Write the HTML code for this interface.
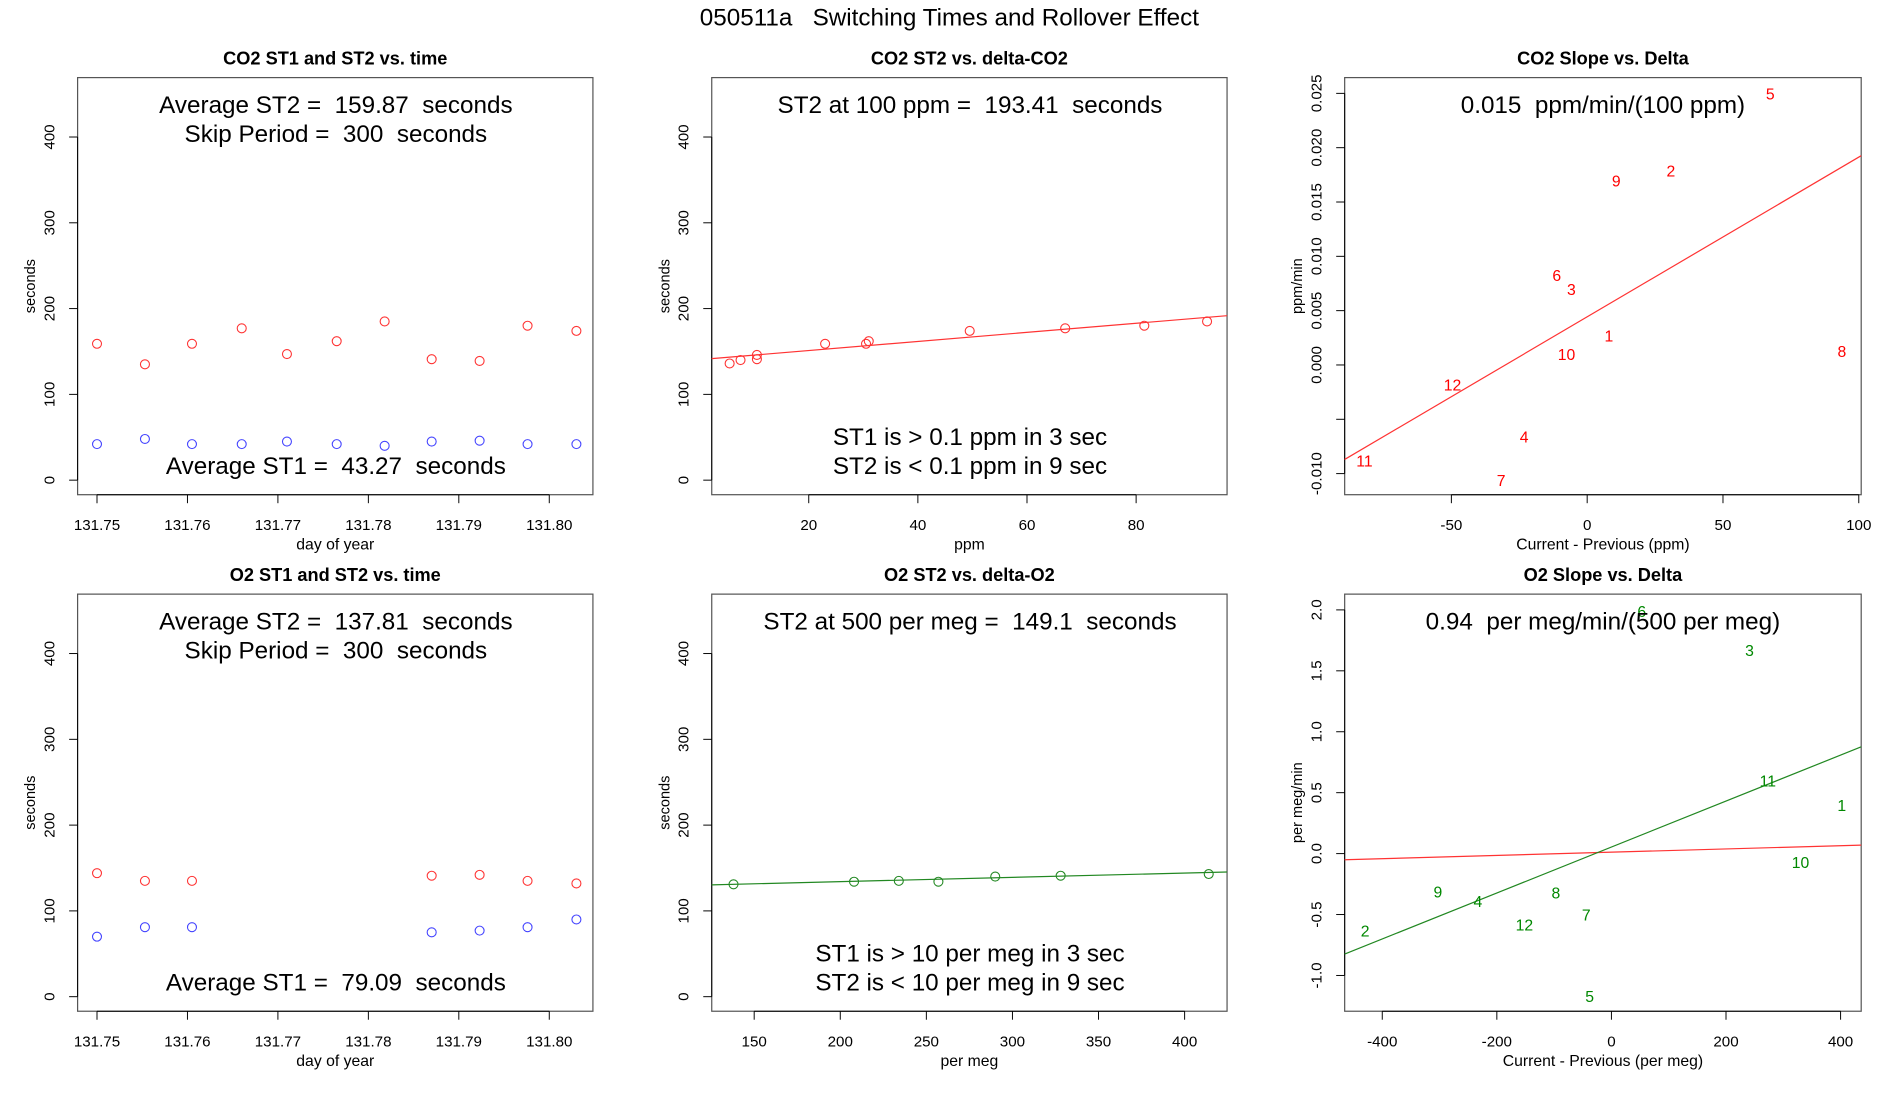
<!DOCTYPE html>
<html><head><meta charset="utf-8"><style>
html,body{margin:0;padding:0;background:#fff;}
svg{display:block;}
text{font-family:"Liberation Sans Narrow","Liberation Sans",sans-serif;fill:#000;white-space:pre;}
.tk{font-family:"Liberation Sans",sans-serif;font-size:12.5px;}
</style></head><body>
<svg id="fig" width="1900" height="1100" viewBox="0 0 1567 907" preserveAspectRatio="xMinYMin meet" xmlns="http://www.w3.org/2000/svg"></svg>
<script>
// ---- Data ----
const co2Days = [131.75,131.7553,131.7605,131.766,131.771,131.7765,131.7818,131.787,131.7923,131.7976,131.803];
const co2ST2 = [159,135,159,177,147,162,185,141,139,180,174];
const co2ST1 = [42,48,42,42,45,42,40,45,46,42,42];
const o2Days = [131.75,131.7553,131.7605,131.787,131.7923,131.7976,131.803];
const o2ST2 = [144,135,135,141,142,135,132];
const o2ST1 = [70,81,81,75,77,81,90];
const co2Delta = [5.5,7.5,10.5,10.5,23,30.5,31,49.5,67,81.5,93];
const co2DeltaST2 = [136,140,141,146,159,159,162,174,177,180,185];
const co2FitIntercept = 140.5, co2FitSlope = 0.53;
const o2Delta = [138,208,234,257,290,328,414];
const o2DeltaST2 = [131,134,135,134,140,141,143];
const o2FitIntercept = 124.1, o2FitSlope = 0.05;
const co2SlopeLabels = ['5','2','9','6','3','1','10','8','12','4','11','7'];
const co2SlopeX = [67.4,30.8,10.7,-11.2,-5.8,8,-7.6,93.8,-49.6,-23.2,-82,-31.7];
const co2SlopeY = [0.025,0.0179,0.017,0.0083,0.007,0.0027,0.001,0.0013,-0.0018,-0.0066,-0.0088,-0.0106];
const co2SlopeFit = [0.00443,0.000147];
const o2SlopeLabels = ['6','3','11','1','10','9','4','8','7','12','2','5'];
const o2SlopeX = [53,241,273,402,330,-303,-233,-97,-44,-152,-430,-38];
const o2SlopeY = [1.99,1.67,0.6,0.4,-0.07,-0.31,-0.39,-0.32,-0.5,-0.58,-0.63,-1.17];
const o2SlopeFitGreen = [0.054,0.001886];
const o2SlopeFitRed = [0.0117,0.000133];
const dayTicks = [131.75,131.76,131.77,131.78,131.79,131.80];
const dayTickLabels = ['131.75','131.76','131.77','131.78','131.79','131.80'];
const secTicks = [0,100,200,300,400];
const ppmTicks = [20,40,60,80];
const permegTicks = [150,200,250,300,350,400];
const co2DiffTicks = [-50,0,50,100];
const co2SlopeTicks = [-0.01,-0.005,0,0.005,0.01,0.015,0.02,0.025];
const co2SlopeTickLabels = ['-0.010','','0.000','0.005','0.010','0.015','0.020','0.025'];
const o2DiffTicks = [-400,-200,0,200,400];
const o2SlopeTicks = [-1,-0.5,0,0.5,1,1.5,2];
const o2SlopeTickLabels = ['-1.0','-0.5','0.0','0.5','1.0','1.5','2.0'];

const NS='http://www.w3.org/2000/svg';
const svg=document.getElementById('fig');
function mk(tag,attrs,parent,txt){const e=document.createElementNS(NS,tag);for(const k in attrs)e.setAttribute(k,attrs[k]);if(txt!==undefined)e.textContent=txt;(parent||svg).appendChild(e);return e;}
function lin(d0,d1,r0,r1){return v=>r0+(v-d0)*(r1-r0)/(d1-d0);}

function panel(name,box,xs,ys,title,xlab,ylab,xt,xtl,yt,ytl){
  const g=mk('g',{});
  
  
  const t=mk('text',{x:(box.x0+box.x1)/2,y:box.y0-11,'text-anchor':'middle','font-size':15,'font-weight':'bold'},g,title);
  
  
  const r=mk('rect',{x:box.x0,y:box.y0,width:box.x1-box.x0,height:box.y1-box.y0,fill:'none',stroke:'#555','stroke-width':1},g);
  
  
  const xa=mk('g',{},g);
  
  
  const px=xt.map(xs);
  mk('line',{x1:px[0],x2:px[px.length-1],y1:box.y1,y2:box.y1,stroke:'#000','stroke-width':0.8},xa);
  xt.forEach((v,i)=>{const X=xs(v);mk('line',{x1:X,x2:X,y1:box.y1,y2:box.y1+7,stroke:'#000','stroke-width':0.8},xa);
    const l=mk('text',{x:X,y:box.y1+29,'text-anchor':'middle',class:'tk'},xa,xtl[i]);
    
    });
  const xl=mk('text',{x:(box.x0+box.x1)/2,y:box.y1+45,'text-anchor':'middle','font-size':13},g,xlab);
  
  
  const ya=mk('g',{},g);
  
  
  const py=yt.map(ys);
  mk('line',{x1:box.x0,x2:box.x0,y1:py[0],y2:py[py.length-1],stroke:'#000','stroke-width':0.8},ya);
  yt.forEach((v,i)=>{const Y=ys(v);mk('line',{x1:box.x0,x2:box.x0-7,y1:Y,y2:Y,stroke:'#000','stroke-width':0.8},ya);
    if(ytl[i]!==''){const l=mk('text',{x:box.x0-19,y:Y,'text-anchor':'middle',class:'tk',transform:`rotate(-90 ${box.x0-19} ${Y})`},ya,ytl[i]);
    
    }});
  const yc=(box.y0+box.y1)/2;
  const yl=mk('text',{x:box.x0-35,y:yc,'text-anchor':'middle',transform:`rotate(-90 ${box.x0-35} ${yc})`,style:'font-family:"Liberation Sans",sans-serif;font-size:12px'},g,ylab);
  
  
  return g;
}
function note(g,x,y,s,name){const t=mk('text',{x:x,y:y+7,'text-anchor':'middle','font-size':20},g,s);
  
  }
function circles(g,xs,ys,X,Y,color,name){X.forEach((v,i)=>{const c=mk('circle',{cx:xs(v),cy:ys(Y[i]),r:3.7,fill:'none',stroke:color,'stroke-width':0.9},g);
  
  });}
function fitline(g,xs,ys,box,a,b,color,name){const xa=xs.inv(box.x0),xb=xs.inv(box.x1);
  const l=mk('line',{x1:box.x0,y1:ys(a+b*xa),x2:box.x1,y2:ys(a+b*xb),stroke:color,'stroke-width':1},g);
  
  }
function labels(g,xs,ys,L,X,Y,color,name){L.forEach((s,i)=>{const t=mk('text',{x:xs(X[i]),y:ys(Y[i])+5,'text-anchor':'middle',style:'font-family:"Liberation Sans",sans-serif;font-size:13px;fill:'+color},g,s);
  
  });}
function scale(d0,d1,r0,r1){const f=lin(d0,d1,r0,r1);f.inv=lin(r0,r1,d0,d1);return f;}

const tt=mk('text',{x:783,y:21,'text-anchor':'middle','font-size':20},svg,'050511a   Switching Times and Rollover Effect');



const secLbl=secTicks.map(String);

// Panel 1
{const b={x0:64,x1:489,y0:64,y1:408};const xs=scale(131.75,131.80,80,453),ys=scale(0,400,396,113);
 const g=panel('co2-st-vs-time',b,xs,ys,'CO2 ST1 and ST2 vs. time','day of year','seconds',dayTicks,dayTickLabels,secTicks,secLbl);
 note(g,277,86,'Average ST2 =  159.87  seconds','avg-st2-note');note(g,277,110,'Skip Period =  300  seconds','skip-period-note');note(g,277,384,'Average ST1 =  43.27  seconds','avg-st1-note');
 circles(g,xs,ys,co2Days,co2ST2,'#f33','st2-point');circles(g,xs,ys,co2Days,co2ST1,'#44f','st1-point');}
// Panel 2
{const b={x0:587,x1:1012,y0:64,y1:408};const xs=scale(0,100,577,1027),ys=scale(0,400,396,113);
 const g=panel('co2-st2-vs-delta',b,xs,ys,'CO2 ST2 vs. delta-CO2','ppm','seconds',ppmTicks,ppmTicks.map(String),secTicks,secLbl);
 note(g,800,86,'ST2 at 100 ppm =  193.41  seconds','st2-at-100-note');note(g,800,360,'ST1 is > 0.1 ppm in 3 sec','st1-note');note(g,800,384,'ST2 is < 0.1 ppm in 9 sec','st2-note');
 fitline(g,xs,ys,b,co2FitIntercept,co2FitSlope,'#f33','fit-line');circles(g,xs,ys,co2Delta,co2DeltaST2,'#f33','st2-point');}
// Panel 3
{const b={x0:1109,x1:1535,y0:64,y1:408};const xs=scale(0,100,1309,1533),ys=scale(0,0.025,301,77);
 const g=panel('co2-slope-vs-delta',b,xs,ys,'CO2 Slope vs. Delta','Current - Previous (ppm)','ppm/min',co2DiffTicks,co2DiffTicks.map(String),co2SlopeTicks,co2SlopeTickLabels);
 note(g,1322,86,'0.015  ppm/min/(100 ppm)','slope-note');
 fitline(g,xs,ys,b,co2SlopeFit[0],co2SlopeFit[1],'#f33','fit-line');labels(g,xs,ys,co2SlopeLabels,co2SlopeX,co2SlopeY,'#f00','point-label');}
// Panel 4
{const b={x0:64,x1:489,y0:490,y1:834};const xs=scale(131.75,131.80,80,453),ys=scale(0,400,822,539);
 const g=panel('o2-st-vs-time',b,xs,ys,'O2 ST1 and ST2 vs. time','day of year','seconds',dayTicks,dayTickLabels,secTicks,secLbl);
 note(g,277,512,'Average ST2 =  137.81  seconds','avg-st2-note');note(g,277,536,'Skip Period =  300  seconds','skip-period-note');note(g,277,810,'Average ST1 =  79.09  seconds','avg-st1-note');
 circles(g,xs,ys,o2Days,o2ST2,'#f33','st2-point');circles(g,xs,ys,o2Days,o2ST1,'#44f','st1-point');}
// Panel 5
{const b={x0:587,x1:1012,y0:490,y1:834};const xs=scale(150,400,622,977),ys=scale(0,400,822,539);
 const g=panel('o2-st2-vs-delta',b,xs,ys,'O2 ST2 vs. delta-O2','per meg','seconds',permegTicks,permegTicks.map(String),secTicks,secLbl);
 note(g,800,512,'ST2 at 500 per meg =  149.1  seconds','st2-at-500-note');note(g,800,786,'ST1 is > 10 per meg in 3 sec','st1-note');note(g,800,810,'ST2 is < 10 per meg in 9 sec','st2-note');
 fitline(g,xs,ys,b,o2FitIntercept,o2FitSlope,'#282','fit-line');circles(g,xs,ys,o2Delta,o2DeltaST2,'#282','st2-point');}
// Panel 6
{const b={x0:1109,x1:1535,y0:490,y1:834};const xs=scale(-400,400,1140,1518),ys=scale(0,2,704,503);
 const g=panel('o2-slope-vs-delta',b,xs,ys,'O2 Slope vs. Delta','Current - Previous (per meg)','per meg/min',o2DiffTicks,o2DiffTicks.map(String),o2SlopeTicks,o2SlopeTickLabels);
 fitline(g,xs,ys,b,o2SlopeFitRed[0],o2SlopeFitRed[1],'#f33','red-fit-line');fitline(g,xs,ys,b,o2SlopeFitGreen[0],o2SlopeFitGreen[1],'#282','green-fit-line');
 labels(g,xs,ys,o2SlopeLabels,o2SlopeX,o2SlopeY,'#080','point-label');
 note(g,1322,512,'0.94  per meg/min/(500 per meg)','slope-note');}
</script>
</body></html>
